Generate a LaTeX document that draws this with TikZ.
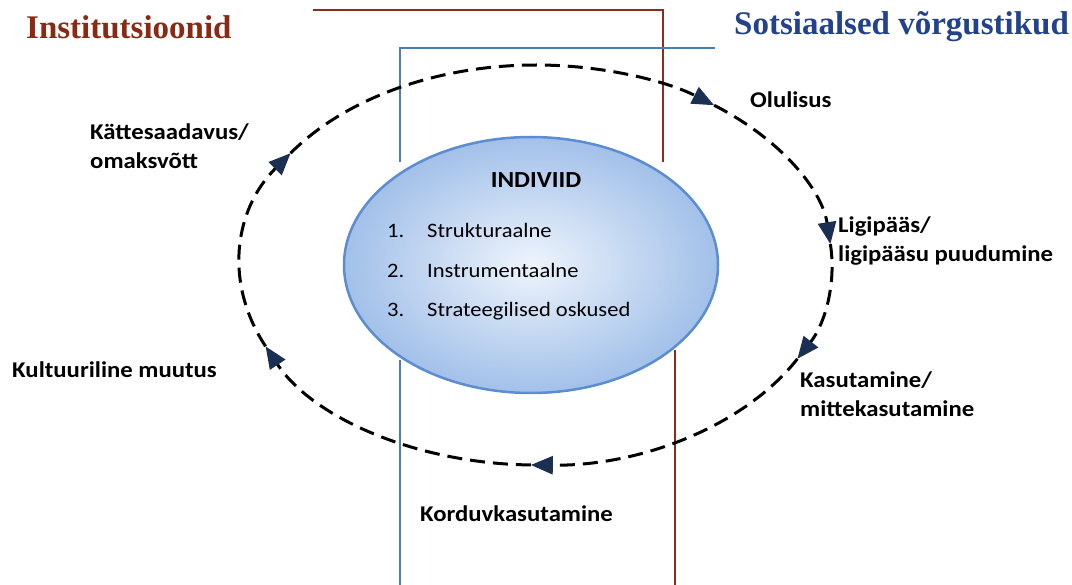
\documentclass[tikz,border=0pt]{standalone}
\usepackage{fontspec}
\setmainfont{Carlito}[FakeStretch=1.1]
\newfontfamily\headfont{Liberation Serif}
\usetikzlibrary{arrows.meta,shapes.geometric}
\definecolor{instred}{HTML}{8B2D1C}
\definecolor{netblue}{HTML}{4A7EBB}
\definecolor{headred}{HTML}{8B2A14}
\definecolor{headblue}{HTML}{23428E}
\definecolor{tipnavy}{HTML}{1B2F52}
\definecolor{ballin}{HTML}{EEF4FC}
\definecolor{ballout}{HTML}{A2C0E9}
\definecolor{ballrim}{HTML}{5B8DD0}

\begin{document}
\begin{tikzpicture}[x=1pt,y=-1pt,
  cyc/.style={line width=3pt, dash pattern=on 15pt off 8pt,
    -{Triangle[length=22pt,width=18pt,color=tipnavy]}},
  lbl/.style={font=\fontsize{22.5}{29}\selectfont\bfseries, align=left, anchor=west, inner sep=0pt},
  head/.style={font=\headfont\fontsize{33}{36}\selectfont\bfseries, anchor=west, inner sep=0pt},
  item/.style={font=\fontsize{20.5}{24}\selectfont, anchor=base west, inner sep=0pt}]
  \useasboundingbox (0,0) rectangle (1072,585);

  % frame lines
  \draw[instred, line width=2.8pt] (313,10) -- (663,10) -- (663,162);
  \draw[instred, line width=2.8pt] (675,350) -- (675,585);
  \draw[netblue, line width=2.8pt] (715,48) -- (400,48) -- (400,162);
  \draw[netblue, line width=2.8pt] (400,360) -- (400,585);

  % cycle round the individual
  \coordinate (mid) at (536,265);
  \foreach \n/\a in {olu/-53, lig/-6, kas/28, kor/91, kul/156, kat/214}
    \path (mid) ++(\a:296 and 200) coordinate (\n);
  \foreach \p/\a/\b in {kat/-146/-53, olu/-53/-6, lig/-6/28, kas/28/91, kor/91/156, kul/156/214}
    \draw[cyc] (\p) arc[start angle=\a, end angle=\b, x radius=296, y radius=200];

  \node[ellipse, minimum width=374pt, minimum height=256pt, inner color=ballin,
    outer color=ballout, draw=ballrim, line width=2.5pt] (ind) at (531,265) {};
  \node[font=\fontsize{23}{26}\selectfont\bfseries, anchor=base, inner sep=0pt] (title) at (536,188) {INDIVIID};
  \node[item] (n1) at (387,238) {1.};
  \node[item] (i1) at (427,238) {Strukturaalne};
  \node[item] (n2) at (387,278) {2.};
  \node[item] (i2) at (427,278) {Instrumentaalne};
  \node[item] (n3) at (387,317) {3.};
  \node[item] (i3) at (427,317) {Strateegilised oskused};

  % stages
  \node[lbl] (olulisus) at (750,100) {Olulisus};
  \node[lbl] (ligipaas) at (838,241) {Ligipääs/\\ligipääsu puudumine};
  \node[lbl] (kasutamine) at (800,394) {Kasutamine/\\mittekasutamine};
  \node[lbl] (korduv) at (420,514) {Korduvkasutamine};
  \node[lbl] (kultuur) at (12,370) {Kultuuriline muutus};
  \node[lbl] (kattesaadavus) at (90,146) {Kättesaadavus/\\omaksvõtt};

  \node[head, text=headred] (inst) at (26,27) {Institutsioonid};
  \node[head, text=headblue] (sots) at (734,27) {Sotsiaalsed võrgustikud};
\end{tikzpicture}
\end{document}
